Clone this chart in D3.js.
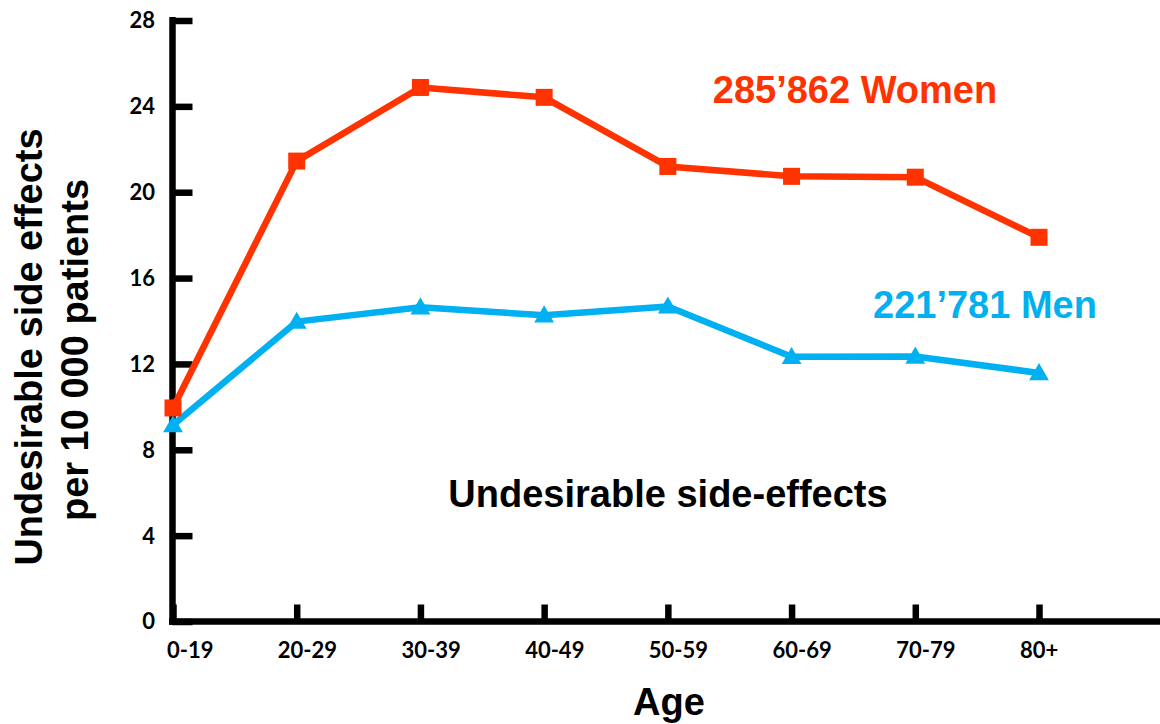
<!DOCTYPE html>
<html>
<head>
<meta charset="utf-8">
<script src="https://cdn.jsdelivr.net/npm/d3@7"></script>
<style>
  html, body { margin: 0; padding: 0; background: #fff; }
  svg { display: block; }
</style>
</head>
<body>
<svg id="chart" width="1160" height="724"></svg>
<script>
const categories = ["0-19", "20-29", "30-39", "40-49", "50-59", "60-69", "70-79", "80+"];
const womenValues = [9.95, 21.45, 24.88, 24.42, 21.2, 20.74, 20.7, 17.9];
const menValues = [9.15, 13.97, 14.64, 14.27, 14.68, 12.33, 12.35, 11.58];
const yTicks = [0, 4, 8, 12, 16, 20, 24, 28];
const womenLabel = "285\u2019862 Women";
const menLabel = "221\u2019781 Men";
const innerTitle = "Undesirable side-effects";
const xTitle = "Age";
const yTitleLines = ["Undesirable side effects", "per 10 000 patients"];

const WOMEN = "#ff3300";
const MEN = "#00b0f0";
const svg = d3.select("#chart");

const x = d3.scalePoint().domain(categories).range([173, 1039]);
const y = d3.scaleLinear().domain([0, 28]).range([621.5, 20.5]);

const labelFont = "Lato, 'Open Sans', sans-serif";
const titleFont = "'Liberation Sans', Arial, sans-serif";

// Y axis
const yAxis = svg.append("g").attr("transform", "translate(172.5,0)")
  .call(d3.axisRight(y).tickValues(yTicks).tickSize(20).tickFormat(""));
yAxis.select(".domain").remove();
yAxis.selectAll(".tick line").attr("stroke", "#000").attr("stroke-width", 6.5);
svg.append("line").attr("x1", 172.5).attr("x2", 172.5).attr("y1", 17).attr("y2", 625)
  .attr("stroke", "#000").attr("stroke-width", 6.5);
svg.append("g").selectAll("text").data(yTicks).join("text")
  .attr("x", 155).attr("y", d => y(d)).attr("dy", "0.36em")
  .attr("text-anchor", "end")
  .attr("font-family", labelFont).attr("font-weight", 700).attr("font-size", 22)
  .attr("fill", "#000").text(d => d);

// X axis
const xAxis = svg.append("g").attr("transform", "translate(0,621.5)")
  .call(d3.axisTop(x).tickSize(17).tickFormat(""));
xAxis.select(".domain").remove();
xAxis.selectAll(".tick line").attr("stroke", "#000").attr("stroke-width", 6.5);
svg.append("line").attr("x1", 169).attr("x2", 1160).attr("y1", 621.5).attr("y2", 621.5)
  .attr("stroke", "#000").attr("stroke-width", 6.5);
svg.append("g").selectAll("text").data(categories).join("text")
  .attr("x", (d, i) => x(d) + (i === 0 ? -6 : -19)).attr("y", 658)
  .attr("text-anchor", "start")
  .attr("font-family", labelFont).attr("font-weight", 700).attr("font-size", 22)
  .attr("fill", "#000").text(d => d);

// Lines
const line = d3.line().x((d, i) => x(categories[i])).y(d => y(d));
svg.append("path").datum(menValues).attr("d", line)
  .attr("fill", "none").attr("stroke", MEN).attr("stroke-width", 6.5).attr("stroke-linejoin", "round");
svg.append("path").datum(womenValues).attr("d", line)
  .attr("fill", "none").attr("stroke", WOMEN).attr("stroke-width", 6.5).attr("stroke-linejoin", "round");

// Markers
svg.append("g").selectAll("path").data(menValues).join("path")
  .attr("transform", (d, i) => `translate(${x(categories[i])},${y(d) + 1.5})`)
  .attr("d", d3.symbol().type(d3.symbolTriangle).size(170)())
  .attr("fill", MEN);
svg.append("g").selectAll("rect").data(womenValues).join("rect")
  .attr("x", (d, i) => x(categories[i]) - 8.5).attr("y", d => y(d) - 8.5)
  .attr("width", 17).attr("height", 17).attr("fill", WOMEN);

// Annotations
svg.append("text").attr("x", 855).attr("y", 103).attr("text-anchor", "middle")
  .attr("font-family", titleFont).attr("font-weight", 700).attr("font-size", 38)
  .attr("fill", WOMEN).text(womenLabel);
svg.append("text").attr("x", 985).attr("y", 318).attr("text-anchor", "middle")
  .attr("font-family", titleFont).attr("font-weight", 700).attr("font-size", 38)
  .attr("fill", MEN).text(menLabel);
svg.append("text").attr("x", 668).attr("y", 507).attr("text-anchor", "middle")
  .attr("font-family", titleFont).attr("font-weight", 700).attr("font-size", 38)
  .attr("fill", "#000").text(innerTitle);

// Axis titles
svg.append("text").attr("x", 669).attr("y", 715).attr("text-anchor", "middle")
  .attr("font-family", titleFont).attr("font-weight", 700).attr("font-size", 38)
  .attr("fill", "#000").text(xTitle);
const yt = svg.append("text").attr("transform", "translate(42,347) rotate(-90)")
  .attr("text-anchor", "middle")
  .attr("font-family", titleFont).attr("font-weight", 700).attr("font-size", 38)
  .attr("fill", "#000");
yTitleLines.forEach((t, i) => {
  yt.append("tspan").attr("x", i * -3).attr("y", i * 46).text(t);
});
</script>
</body>
</html>
